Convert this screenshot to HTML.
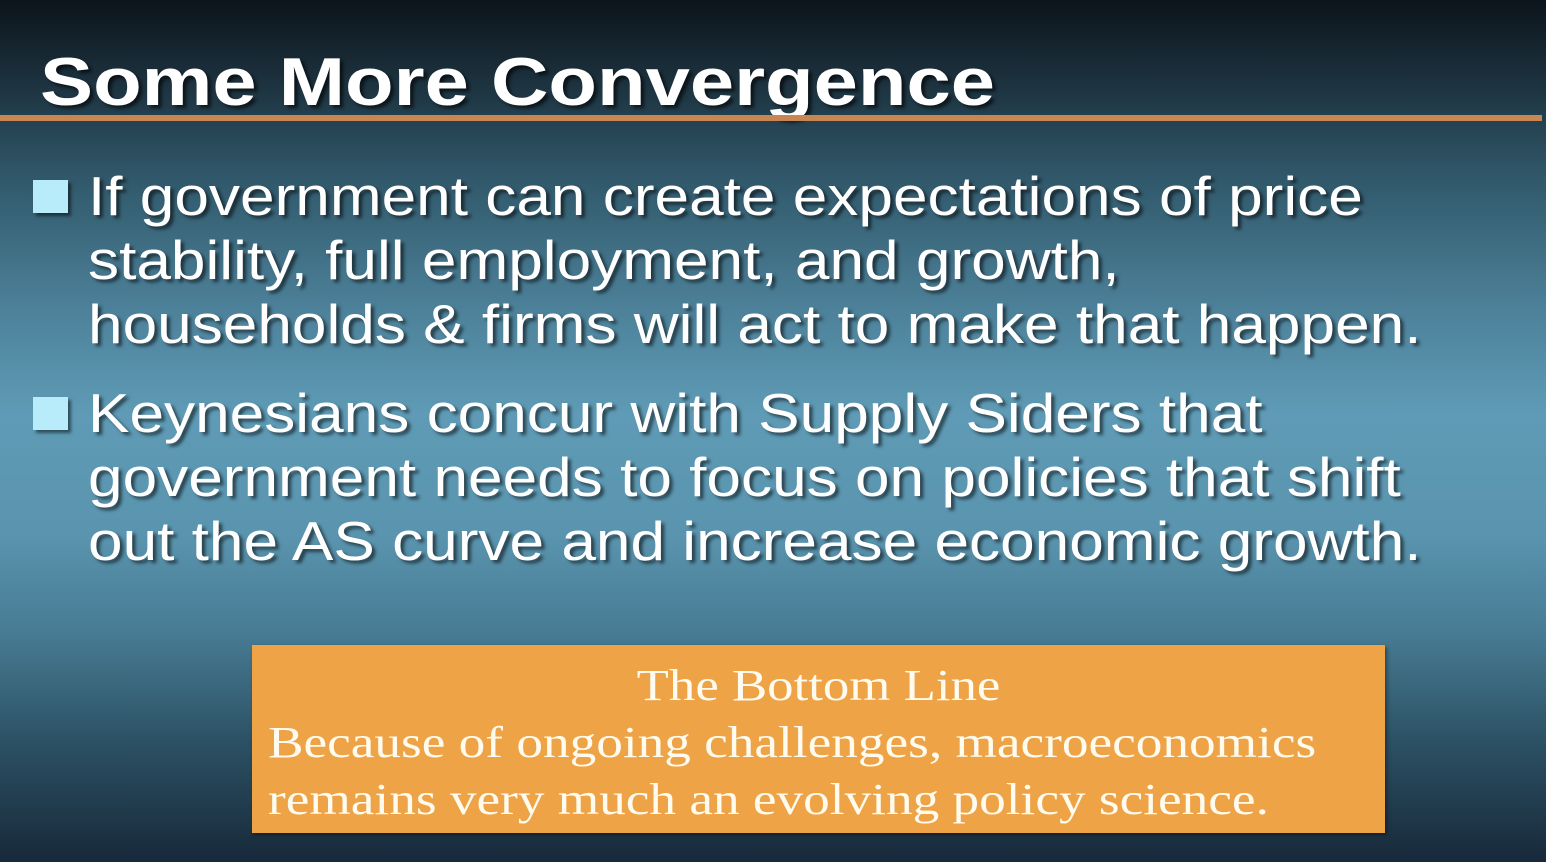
<!DOCTYPE html>
<html><head><meta charset="utf-8"><style>
html,body{margin:0;padding:0}
body{width:1546px;height:862px;overflow:hidden;position:relative;
background:linear-gradient(180deg,#0c141b 0%,#1d3340 10%,#2f5668 20%,#4b7f97 35%,#5f9bb6 48%,#5a94ae 62%,#467a92 74%,#2c5164 86%,#17293a 100%);
font-family:"Liberation Sans",sans-serif;color:#fff}
.title{position:absolute;left:40px;top:43px;font-size:68px;font-weight:bold;transform:scaleX(1.17);transform-origin:0 0;text-shadow:3px 3px 3px rgba(0,0,0,.6);white-space:nowrap}
.rule{position:absolute;left:0;top:115px;width:1542px;height:6px;background:#c98652}
.b{position:absolute;left:88px;font-size:55px;line-height:64px;transform:scaleX(1.13);transform-origin:0 0;text-shadow:3px 3px 3px rgba(0,0,0,.55);white-space:nowrap}
.sq{position:absolute;left:33px;width:35px;height:33px;background:#b9ecfa;box-shadow:3px 3px 3px rgba(0,0,0,.5)}
.box{position:absolute;left:252px;top:645px;width:1133px;height:188px;background:#eda346;box-shadow:2px 2px 4px rgba(0,0,0,.4);font-family:"Liberation Serif",serif;font-size:44px;line-height:57px;color:#fffbee}
.box .h{position:absolute;left:0;width:1133px;top:12px;text-align:center;transform:scaleX(1.2);transform-origin:50% 0}
.box .t{position:absolute;left:16px;top:69px;white-space:nowrap;transform:scaleX(1.21);transform-origin:0 0}
</style></head><body>
<div class="title">Some More Convergence</div>
<div class="rule"></div>
<div class="sq" style="top:180px"></div>
<div class="b" style="top:164px">If government can create expectations of price<br>stability, full employment, and growth,<br>households &amp; firms will act to make that happen.</div>
<div class="sq" style="top:397px"></div>
<div class="b" style="top:381px">Keynesians concur with Supply Siders that<br>government needs to focus on policies that shift<br>out the AS curve and increase economic growth.</div>
<div class="box">
<div class="h">The Bottom Line</div>
<div class="t">Because of ongoing challenges, macroeconomics<br>remains very much an evolving policy science.</div>
</div>
</body></html>
